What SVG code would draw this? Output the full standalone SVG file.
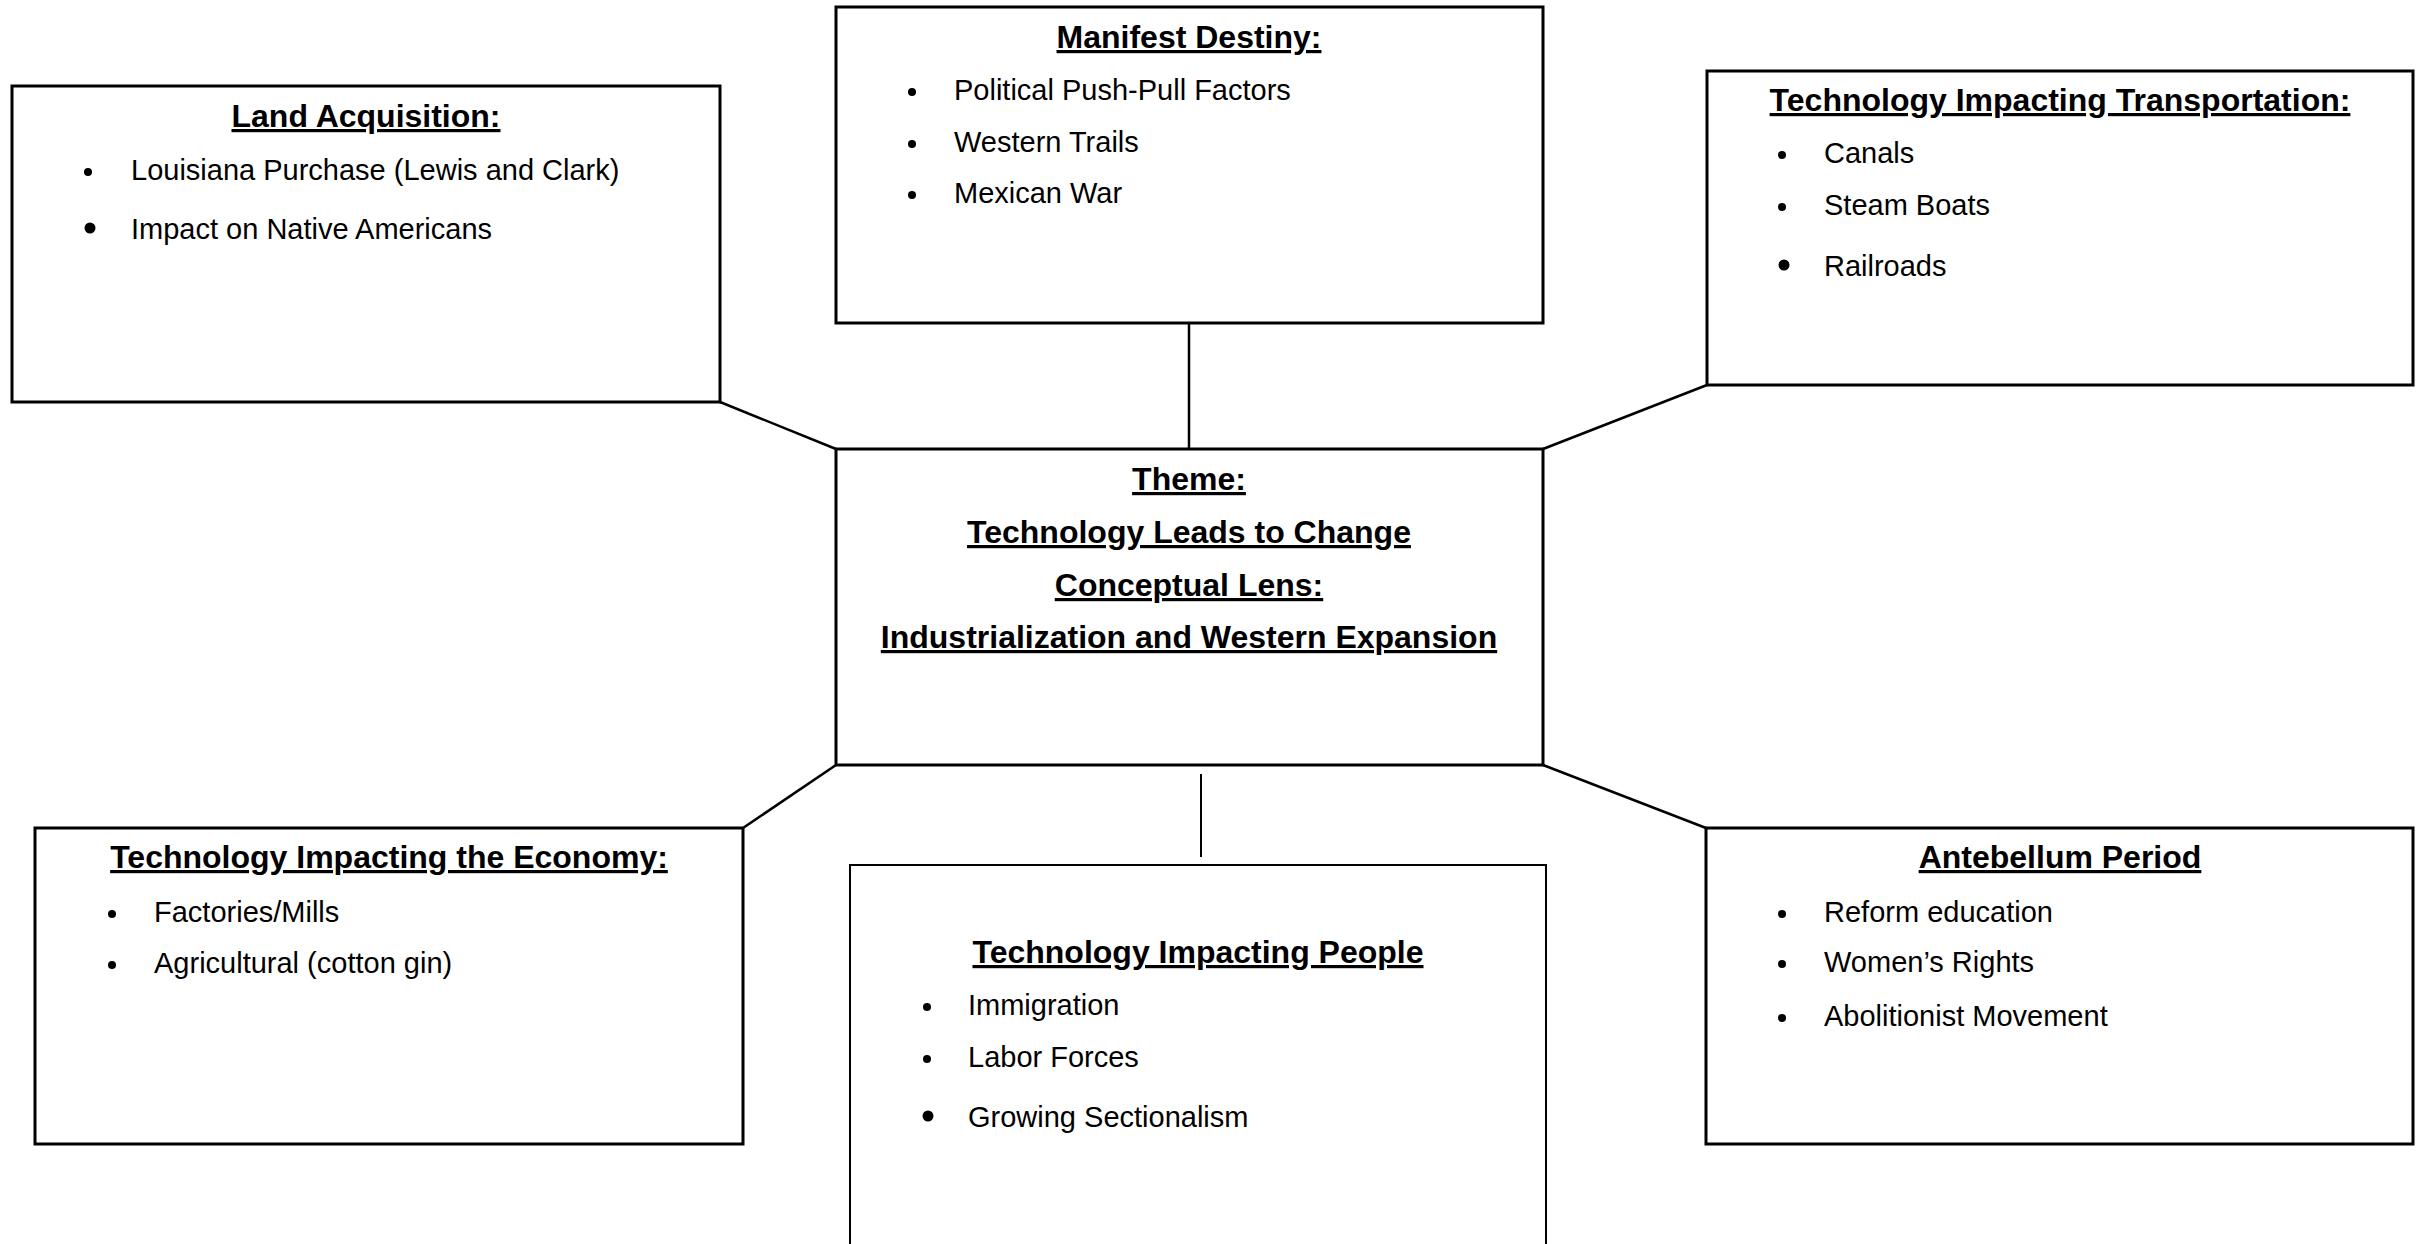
<svg xmlns="http://www.w3.org/2000/svg" width="2421" height="1244" viewBox="0 0 2421 1244">
<style>
.box{fill:#fff;stroke:#000;stroke-width:3}
.thin{fill:#fff;stroke:#000;stroke-width:2}
.conn{stroke:#000;stroke-width:2.5;fill:none}
.conn2{stroke:#000;stroke-width:2;fill:none}
.t{font-family:"Liberation Sans",Arial,sans-serif;font-size:32px;font-weight:bold;text-anchor:middle;text-decoration:underline;fill:#000}
.b{font-family:"Liberation Sans",Arial,sans-serif;font-size:29px;fill:#000}
.dot{fill:#000}
</style>
<rect width="2421" height="1244" fill="#fff"/>
<g id="connectors">
<line class="conn" x1="1189" y1="323" x2="1189" y2="449"/>
<line class="conn" x1="720" y1="402" x2="836" y2="449"/>
<line class="conn" x1="1707" y1="385" x2="1543" y2="449"/>
<line class="conn" x1="743" y1="828" x2="836" y2="765"/>
<line class="conn" x1="1706" y1="828" x2="1543" y2="765"/>
<line class="conn2" x1="1201" y1="774" x2="1201" y2="857"/>
</g>
<g id="land">
<rect class="box" x="12" y="86" width="708" height="316"/>
<text class="t" x="366" y="127">Land Acquisition:</text>
<circle class="dot" cx="88" cy="172" r="4"/>
<text class="b" x="131" y="180">Louisiana Purchase (Lewis and Clark)</text>
<circle class="dot" cx="90" cy="228" r="5.5"/>
<text class="b" x="131" y="239">Impact on Native Americans</text>
</g>
<g id="manifest">
<rect class="box" x="836" y="7" width="707" height="316"/>
<text class="t" x="1189" y="48">Manifest Destiny:</text>
<circle class="dot" cx="912" cy="92" r="4"/>
<text class="b" x="954" y="100">Political Push-Pull Factors</text>
<circle class="dot" cx="912" cy="144" r="4"/>
<text class="b" x="954" y="152">Western Trails</text>
<circle class="dot" cx="912" cy="195" r="4"/>
<text class="b" x="954" y="203">Mexican War</text>
</g>
<g id="transportation">
<rect class="box" x="1707" y="71" width="706" height="314"/>
<text class="t" x="2060" y="111">Technology Impacting Transportation:</text>
<circle class="dot" cx="1782" cy="155" r="4"/>
<text class="b" x="1824" y="163">Canals</text>
<circle class="dot" cx="1782" cy="207" r="4"/>
<text class="b" x="1824" y="215">Steam Boats</text>
<circle class="dot" cx="1784" cy="265" r="5.5"/>
<text class="b" x="1824" y="276">Railroads</text>
</g>
<g id="theme">
<rect class="box" x="836" y="449" width="707" height="316"/>
<text class="t" x="1189" y="490">Theme:</text>
<text class="t" x="1189" y="543">Technology Leads to Change</text>
<text class="t" x="1189" y="596">Conceptual Lens:</text>
<text class="t" x="1189" y="648">Industrialization and Western Expansion</text>
</g>
<g id="economy">
<rect class="box" x="35" y="828" width="708" height="316"/>
<text class="t" x="389" y="868">Technology Impacting the Economy:</text>
<circle class="dot" cx="112" cy="914" r="4"/>
<text class="b" x="154" y="922">Factories/Mills</text>
<circle class="dot" cx="112" cy="965" r="4"/>
<text class="b" x="154" y="973">Agricultural (cotton gin)</text>
</g>
<g id="people">
<rect class="thin" x="850" y="865" width="696" height="420"/>
<text class="t" x="1198" y="963">Technology Impacting People</text>
<circle class="dot" cx="927" cy="1007" r="4"/>
<text class="b" x="968" y="1015">Immigration</text>
<circle class="dot" cx="927" cy="1059" r="4"/>
<text class="b" x="968" y="1067">Labor Forces</text>
<circle class="dot" cx="928" cy="1116" r="5.5"/>
<text class="b" x="968" y="1127">Growing Sectionalism</text>
</g>
<g id="antebellum">
<rect class="box" x="1706" y="828" width="707" height="316"/>
<text class="t" x="2060" y="868">Antebellum Period</text>
<circle class="dot" cx="1782" cy="914" r="4"/>
<text class="b" x="1824" y="922">Reform education</text>
<circle class="dot" cx="1782" cy="964" r="4"/>
<text class="b" x="1824" y="972">Women’s Rights</text>
<circle class="dot" cx="1782" cy="1018" r="4"/>
<text class="b" x="1824" y="1026">Abolitionist Movement</text>
</g>
</svg>
